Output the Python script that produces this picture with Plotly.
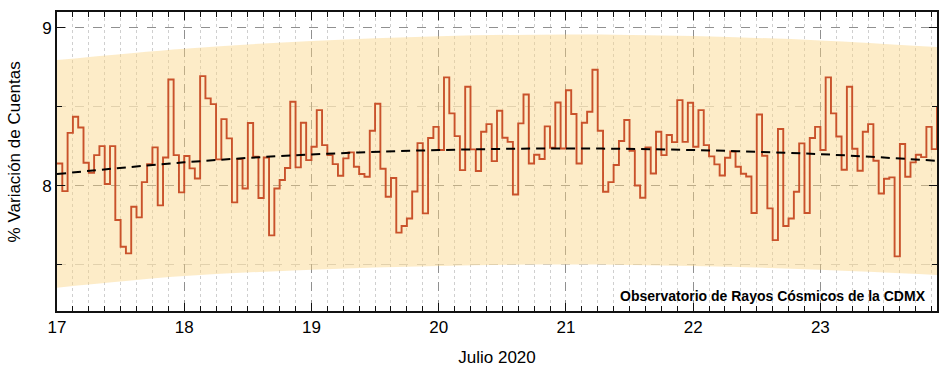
import plotly.graph_objects as go

# ---------------- datos ----------------
dia_inicio = 17.0          # 17 de julio de 2020, 00:00
horas_por_dia = 24

variacion = [
    # 17
    8.141, 7.966, 8.335, 8.437, 8.369, 8.146, 8.082, 8.194, 8.251, 8.011, 8.251, 7.783,
    7.614, 7.572, 7.867, 7.800, 8.023, 8.137, 8.243, 7.876, 8.179, 8.673, 8.194, 7.958,
    # 18
    8.188, 8.110, 8.046, 8.694, 8.553, 8.517, 8.167, 8.422, 8.300, 7.895, 8.169, 7.983,
    8.397, 8.184, 7.922, 8.179, 7.686, 7.983, 8.036, 8.112, 8.532, 8.116, 8.399, 8.162,
    # 19
    8.247, 8.479, 8.257, 8.194, 8.137, 8.063, 8.173, 8.211, 8.120, 8.074, 8.057, 8.348,
    8.519, 8.108, 7.930, 8.049, 7.703, 7.745, 7.793, 7.964, 8.270, 7.825, 8.302, 8.373,
    # 20
    8.226, 8.686, 8.458, 8.314, 8.099, 8.627, 8.230, 8.093, 8.342, 8.390, 8.156, 8.475,
    8.304, 8.278, 7.945, 8.395, 8.578, 8.141, 8.196, 8.169, 8.376, 8.241, 8.527, 8.236,
    # 21
    8.605, 8.454, 8.141, 8.399, 8.468, 8.734, 8.348, 7.962, 8.023, 8.131, 8.283, 8.416,
    8.222, 8.002, 7.924, 8.243, 8.078, 8.342, 8.194, 8.321, 8.276, 8.542, 8.278, 8.525,
    # 22
    8.247, 8.479, 8.257, 8.186, 8.135, 8.065, 8.177, 8.217, 8.120, 8.076, 8.059, 7.827,
    8.451, 8.190, 7.857, 7.656, 8.359, 7.745, 7.793, 7.962, 8.268, 7.827, 8.302, 8.373,
    # 23
    8.226, 8.686, 8.458, 8.312, 8.101, 8.627, 8.234, 8.095, 8.342, 8.390, 8.158, 7.951,
    8.044, 8.053, 7.553, 8.264, 8.057, 8.148, 8.196, 8.181, 8.373, 8.232, 8.500,
]

tendencia_x = [17, 18, 19, 20, 21, 22, 23, 23.9167]
tendencia_y = [8.074, 8.148, 8.198, 8.226, 8.236, 8.226, 8.200, 8.158]
banda_sup = [8.796, 8.868, 8.916, 8.946, 8.958, 8.948, 8.920, 8.878]
banda_inf = [7.354, 7.428, 7.468, 7.492, 7.502, 7.492, 7.468, 7.435]

dias_ticks = [17, 18, 19, 20, 21, 22, 23]
y_ticks = [8, 9]

x_horas = [dia_inicio + i / horas_por_dia for i in range(len(variacion))]

FONT = "Liberation Sans, Arial"

# ---------------- figura ----------------
fig = go.Figure()

fig.add_trace(go.Scatter(
    x=tendencia_x, y=banda_inf, mode="lines", line=dict(width=0, shape="spline"),
    hoverinfo="skip", showlegend=False))
fig.add_trace(go.Scatter(
    x=tendencia_x, y=banda_sup, mode="lines", line=dict(width=0, shape="spline"),
    fill="tonexty", fillcolor="rgba(251, 212, 128, 0.43)",
    hoverinfo="skip", showlegend=False))

fig.add_trace(go.Scatter(
    x=x_horas, y=variacion, mode="lines",
    line=dict(color="#C9522B", width=1.9, shape="hv"),
    showlegend=False))

fig.add_trace(go.Scatter(
    x=tendencia_x, y=tendencia_y, mode="lines",
    line=dict(color="black", width=2, dash="9px,6px", shape="spline"),
    showlegend=False))

fig.add_annotation(
    text="<b>Observatorio de Rayos Cósmicos de la CDMX</b>",
    xref="paper", yref="paper", x=0.99, y=0.05, xanchor="right", yanchor="middle",
    showarrow=False, font=dict(family=FONT, size=14, color="black"))

# título del eje y
fig.add_annotation(
    text="% Variación de Cuentas", textangle=-90,
    xref="paper", yref="paper", x=-0.048, y=0.533, xanchor="center", yanchor="middle",
    showarrow=False, font=dict(family=FONT, size=17, color="black"))

axis_common = dict(
    showline=True, linecolor="#111", linewidth=2, mirror="allticks",
    ticks="inside", ticklen=8, tickwidth=1.3, tickcolor="#111",
    zeroline=False, automargin=False,
    tickfont=dict(family=FONT, size=17, color="black"),
)

fig.update_xaxes(
    **axis_common,
    range=[17, 23.9167], tickvals=dias_ticks,
    showgrid=True, gridcolor="#909090", griddash="dash", gridwidth=1,
    minor=dict(dtick=0.125, tick0=17, ticks="inside", ticklen=5, tickcolor="#111",
               showgrid=True, gridcolor="#cfcfcf", griddash="dot", gridwidth=1),
    title=dict(text="Julio 2020", standoff=15,
               font=dict(family=FONT, size=17, color="black")),
)
fig.update_yaxes(
    **axis_common,
    range=[7.207, 9.1], tickvals=y_ticks,
    showgrid=True, gridcolor="#909090", griddash="dash", gridwidth=1,
    minor=dict(dtick=0.5, tick0=7.5, ticks="inside", ticklen=5, tickcolor="#111",
               showgrid=True, gridcolor="#cfcfcf", griddash="dash", gridwidth=1),
)

fig.update_layout(
    width=945, height=367,
    margin=dict(l=57, r=8, t=12, b=56, autoexpand=False),
    plot_bgcolor="white", paper_bgcolor="white",
    showlegend=False,
)

fig.write_html(
    "out.html",
    config={"displayModeBar": False},
    post_script="document.body.style.margin='0px';document.body.style.overflow='hidden';",
)
